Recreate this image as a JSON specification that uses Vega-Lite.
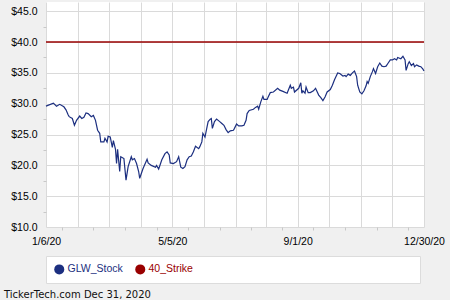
{
  "$schema": "https://vega.github.io/schema/vega-lite/v6.json",
  "width": 378,
  "height": 225,
  "autosize": "none",
  "padding": {"left": 46, "top": 2, "right": 26, "bottom": 73},
  "background": "#f0f0f0",
  "config": {
    "view": {"fill": "white", "stroke": null},
    "font": "Liberation Sans"
  },
  "title": {
    "text": "TickerTech.com  Dec 31, 2020",
    "orient": "bottom",
    "anchor": "start",
    "frame": "group",
    "dx": -42,
    "offset": 6,
    "font": "DejaVu Sans",
    "fontSize": 10,
    "fontWeight": "normal",
    "color": "#111"
  },
  "data": {
    "values": [
      {"date": "2020-01-06", "price": 29.6, "series": "GLW_Stock"},
      {"date": "2020-01-13", "price": 30.1, "series": "GLW_Stock"},
      {"date": "2020-01-16", "price": 29.6, "series": "GLW_Stock"},
      {"date": "2020-01-19", "price": 29.9, "series": "GLW_Stock"},
      {"date": "2020-01-23", "price": 29.5, "series": "GLW_Stock"},
      {"date": "2020-01-25", "price": 29.0, "series": "GLW_Stock"},
      {"date": "2020-01-27", "price": 28.2, "series": "GLW_Stock"},
      {"date": "2020-01-28", "price": 27.9, "series": "GLW_Stock"},
      {"date": "2020-01-31", "price": 27.6, "series": "GLW_Stock"},
      {"date": "2020-02-02", "price": 26.5, "series": "GLW_Stock"},
      {"date": "2020-02-04", "price": 27.3, "series": "GLW_Stock"},
      {"date": "2020-02-07", "price": 28.0, "series": "GLW_Stock"},
      {"date": "2020-02-09", "price": 27.6, "series": "GLW_Stock"},
      {"date": "2020-02-11", "price": 27.8, "series": "GLW_Stock"},
      {"date": "2020-02-13", "price": 28.5, "series": "GLW_Stock"},
      {"date": "2020-02-15", "price": 28.4, "series": "GLW_Stock"},
      {"date": "2020-02-18", "price": 27.9, "series": "GLW_Stock"},
      {"date": "2020-02-20", "price": 28.1, "series": "GLW_Stock"},
      {"date": "2020-02-22", "price": 27.3, "series": "GLW_Stock"},
      {"date": "2020-02-24", "price": 25.7, "series": "GLW_Stock"},
      {"date": "2020-02-26", "price": 25.2, "series": "GLW_Stock"},
      {"date": "2020-02-27", "price": 23.8, "series": "GLW_Stock"},
      {"date": "2020-03-01", "price": 23.8, "series": "GLW_Stock"},
      {"date": "2020-03-02", "price": 24.4, "series": "GLW_Stock"},
      {"date": "2020-03-04", "price": 23.8, "series": "GLW_Stock"},
      {"date": "2020-03-05", "price": 24.7, "series": "GLW_Stock"},
      {"date": "2020-03-07", "price": 24.6, "series": "GLW_Stock"},
      {"date": "2020-03-09", "price": 22.9, "series": "GLW_Stock"},
      {"date": "2020-03-10", "price": 24.0, "series": "GLW_Stock"},
      {"date": "2020-03-12", "price": 22.6, "series": "GLW_Stock"},
      {"date": "2020-03-13", "price": 20.3, "series": "GLW_Stock"},
      {"date": "2020-03-14", "price": 22.6, "series": "GLW_Stock"},
      {"date": "2020-03-16", "price": 19.0, "series": "GLW_Stock"},
      {"date": "2020-03-17", "price": 21.4, "series": "GLW_Stock"},
      {"date": "2020-03-20", "price": 21.1, "series": "GLW_Stock"},
      {"date": "2020-03-22", "price": 17.6, "series": "GLW_Stock"},
      {"date": "2020-03-24", "price": 19.8, "series": "GLW_Stock"},
      {"date": "2020-03-27", "price": 21.4, "series": "GLW_Stock"},
      {"date": "2020-03-28", "price": 20.9, "series": "GLW_Stock"},
      {"date": "2020-03-30", "price": 21.1, "series": "GLW_Stock"},
      {"date": "2020-04-01", "price": 20.3, "series": "GLW_Stock"},
      {"date": "2020-04-03", "price": 19.0, "series": "GLW_Stock"},
      {"date": "2020-04-04", "price": 17.9, "series": "GLW_Stock"},
      {"date": "2020-04-07", "price": 19.4, "series": "GLW_Stock"},
      {"date": "2020-04-08", "price": 19.8, "series": "GLW_Stock"},
      {"date": "2020-04-11", "price": 21.0, "series": "GLW_Stock"},
      {"date": "2020-04-12", "price": 20.4, "series": "GLW_Stock"},
      {"date": "2020-04-15", "price": 20.0, "series": "GLW_Stock"},
      {"date": "2020-04-19", "price": 19.7, "series": "GLW_Stock"},
      {"date": "2020-04-20", "price": 20.0, "series": "GLW_Stock"},
      {"date": "2020-04-22", "price": 19.4, "series": "GLW_Stock"},
      {"date": "2020-04-23", "price": 19.9, "series": "GLW_Stock"},
      {"date": "2020-04-25", "price": 20.9, "series": "GLW_Stock"},
      {"date": "2020-04-28", "price": 21.9, "series": "GLW_Stock"},
      {"date": "2020-04-30", "price": 22.2, "series": "GLW_Stock"},
      {"date": "2020-05-02", "price": 21.7, "series": "GLW_Stock"},
      {"date": "2020-05-03", "price": 20.4, "series": "GLW_Stock"},
      {"date": "2020-05-06", "price": 20.3, "series": "GLW_Stock"},
      {"date": "2020-05-09", "price": 20.6, "series": "GLW_Stock"},
      {"date": "2020-05-11", "price": 21.4, "series": "GLW_Stock"},
      {"date": "2020-05-13", "price": 19.7, "series": "GLW_Stock"},
      {"date": "2020-05-15", "price": 19.5, "series": "GLW_Stock"},
      {"date": "2020-05-17", "price": 19.8, "series": "GLW_Stock"},
      {"date": "2020-05-19", "price": 20.9, "series": "GLW_Stock"},
      {"date": "2020-05-21", "price": 21.4, "series": "GLW_Stock"},
      {"date": "2020-05-23", "price": 21.5, "series": "GLW_Stock"},
      {"date": "2020-05-25", "price": 22.2, "series": "GLW_Stock"},
      {"date": "2020-05-27", "price": 23.1, "series": "GLW_Stock"},
      {"date": "2020-05-30", "price": 22.7, "series": "GLW_Stock"},
      {"date": "2020-05-31", "price": 23.0, "series": "GLW_Stock"},
      {"date": "2020-06-02", "price": 23.8, "series": "GLW_Stock"},
      {"date": "2020-06-03", "price": 25.2, "series": "GLW_Stock"},
      {"date": "2020-06-05", "price": 24.6, "series": "GLW_Stock"},
      {"date": "2020-06-07", "price": 26.3, "series": "GLW_Stock"},
      {"date": "2020-06-08", "price": 27.1, "series": "GLW_Stock"},
      {"date": "2020-06-10", "price": 27.5, "series": "GLW_Stock"},
      {"date": "2020-06-11", "price": 27.6, "series": "GLW_Stock"},
      {"date": "2020-06-12", "price": 26.0, "series": "GLW_Stock"},
      {"date": "2020-06-14", "price": 27.1, "series": "GLW_Stock"},
      {"date": "2020-06-16", "price": 27.5, "series": "GLW_Stock"},
      {"date": "2020-06-19", "price": 27.1, "series": "GLW_Stock"},
      {"date": "2020-06-21", "price": 26.8, "series": "GLW_Stock"},
      {"date": "2020-06-23", "price": 26.5, "series": "GLW_Stock"},
      {"date": "2020-06-25", "price": 25.8, "series": "GLW_Stock"},
      {"date": "2020-06-27", "price": 25.3, "series": "GLW_Stock"},
      {"date": "2020-06-29", "price": 25.6, "series": "GLW_Stock"},
      {"date": "2020-07-02", "price": 25.7, "series": "GLW_Stock"},
      {"date": "2020-07-03", "price": 26.0, "series": "GLW_Stock"},
      {"date": "2020-07-05", "price": 26.7, "series": "GLW_Stock"},
      {"date": "2020-07-07", "price": 26.4, "series": "GLW_Stock"},
      {"date": "2020-07-10", "price": 26.4, "series": "GLW_Stock"},
      {"date": "2020-07-12", "price": 26.5, "series": "GLW_Stock"},
      {"date": "2020-07-14", "price": 27.3, "series": "GLW_Stock"},
      {"date": "2020-07-15", "price": 28.4, "series": "GLW_Stock"},
      {"date": "2020-07-17", "price": 28.9, "series": "GLW_Stock"},
      {"date": "2020-07-21", "price": 29.1, "series": "GLW_Stock"},
      {"date": "2020-07-23", "price": 29.4, "series": "GLW_Stock"},
      {"date": "2020-07-25", "price": 29.6, "series": "GLW_Stock"},
      {"date": "2020-07-26", "price": 29.1, "series": "GLW_Stock"},
      {"date": "2020-07-28", "price": 30.3, "series": "GLW_Stock"},
      {"date": "2020-07-30", "price": 31.2, "series": "GLW_Stock"},
      {"date": "2020-07-31", "price": 30.7, "series": "GLW_Stock"},
      {"date": "2020-08-03", "price": 30.7, "series": "GLW_Stock"},
      {"date": "2020-08-04", "price": 31.1, "series": "GLW_Stock"},
      {"date": "2020-08-06", "price": 31.8, "series": "GLW_Stock"},
      {"date": "2020-08-09", "price": 31.9, "series": "GLW_Stock"},
      {"date": "2020-08-13", "price": 32.5, "series": "GLW_Stock"},
      {"date": "2020-08-15", "price": 32.2, "series": "GLW_Stock"},
      {"date": "2020-08-18", "price": 32.0, "series": "GLW_Stock"},
      {"date": "2020-08-22", "price": 31.7, "series": "GLW_Stock"},
      {"date": "2020-08-25", "price": 33.0, "series": "GLW_Stock"},
      {"date": "2020-08-26", "price": 32.5, "series": "GLW_Stock"},
      {"date": "2020-08-28", "price": 32.7, "series": "GLW_Stock"},
      {"date": "2020-08-29", "price": 31.9, "series": "GLW_Stock"},
      {"date": "2020-09-02", "price": 32.5, "series": "GLW_Stock"},
      {"date": "2020-09-04", "price": 33.4, "series": "GLW_Stock"},
      {"date": "2020-09-05", "price": 31.7, "series": "GLW_Stock"},
      {"date": "2020-09-06", "price": 32.1, "series": "GLW_Stock"},
      {"date": "2020-09-08", "price": 31.7, "series": "GLW_Stock"},
      {"date": "2020-09-09", "price": 32.7, "series": "GLW_Stock"},
      {"date": "2020-09-11", "price": 31.8, "series": "GLW_Stock"},
      {"date": "2020-09-13", "price": 31.8, "series": "GLW_Stock"},
      {"date": "2020-09-16", "price": 32.1, "series": "GLW_Stock"},
      {"date": "2020-09-18", "price": 32.5, "series": "GLW_Stock"},
      {"date": "2020-09-21", "price": 31.4, "series": "GLW_Stock"},
      {"date": "2020-09-23", "price": 31.0, "series": "GLW_Stock"},
      {"date": "2020-09-25", "price": 30.5, "series": "GLW_Stock"},
      {"date": "2020-09-27", "price": 31.1, "series": "GLW_Stock"},
      {"date": "2020-09-29", "price": 31.9, "series": "GLW_Stock"},
      {"date": "2020-10-02", "price": 32.3, "series": "GLW_Stock"},
      {"date": "2020-10-04", "price": 33.0, "series": "GLW_Stock"},
      {"date": "2020-10-06", "price": 33.9, "series": "GLW_Stock"},
      {"date": "2020-10-09", "price": 35.0, "series": "GLW_Stock"},
      {"date": "2020-10-11", "price": 34.9, "series": "GLW_Stock"},
      {"date": "2020-10-14", "price": 34.5, "series": "GLW_Stock"},
      {"date": "2020-10-16", "price": 34.6, "series": "GLW_Stock"},
      {"date": "2020-10-17", "price": 34.4, "series": "GLW_Stock"},
      {"date": "2020-10-19", "price": 34.8, "series": "GLW_Stock"},
      {"date": "2020-10-21", "price": 34.6, "series": "GLW_Stock"},
      {"date": "2020-10-23", "price": 35.0, "series": "GLW_Stock"},
      {"date": "2020-10-25", "price": 35.3, "series": "GLW_Stock"},
      {"date": "2020-10-27", "price": 34.4, "series": "GLW_Stock"},
      {"date": "2020-10-28", "price": 33.0, "series": "GLW_Stock"},
      {"date": "2020-10-30", "price": 31.9, "series": "GLW_Stock"},
      {"date": "2020-11-01", "price": 31.6, "series": "GLW_Stock"},
      {"date": "2020-11-03", "price": 32.1, "series": "GLW_Stock"},
      {"date": "2020-11-05", "price": 32.9, "series": "GLW_Stock"},
      {"date": "2020-11-06", "price": 33.6, "series": "GLW_Stock"},
      {"date": "2020-11-07", "price": 33.3, "series": "GLW_Stock"},
      {"date": "2020-11-09", "price": 34.4, "series": "GLW_Stock"},
      {"date": "2020-11-11", "price": 35.2, "series": "GLW_Stock"},
      {"date": "2020-11-12", "price": 35.7, "series": "GLW_Stock"},
      {"date": "2020-11-14", "price": 34.9, "series": "GLW_Stock"},
      {"date": "2020-11-16", "price": 36.0, "series": "GLW_Stock"},
      {"date": "2020-11-18", "price": 36.6, "series": "GLW_Stock"},
      {"date": "2020-11-20", "price": 36.1, "series": "GLW_Stock"},
      {"date": "2020-11-22", "price": 36.0, "series": "GLW_Stock"},
      {"date": "2020-11-24", "price": 36.1, "series": "GLW_Stock"},
      {"date": "2020-11-26", "price": 36.6, "series": "GLW_Stock"},
      {"date": "2020-11-28", "price": 37.1, "series": "GLW_Stock"},
      {"date": "2020-11-30", "price": 37.1, "series": "GLW_Stock"},
      {"date": "2020-12-02", "price": 37.3, "series": "GLW_Stock"},
      {"date": "2020-12-04", "price": 37.1, "series": "GLW_Stock"},
      {"date": "2020-12-05", "price": 37.5, "series": "GLW_Stock"},
      {"date": "2020-12-08", "price": 37.3, "series": "GLW_Stock"},
      {"date": "2020-12-10", "price": 37.7, "series": "GLW_Stock"},
      {"date": "2020-12-12", "price": 37.1, "series": "GLW_Stock"},
      {"date": "2020-12-13", "price": 35.4, "series": "GLW_Stock"},
      {"date": "2020-12-15", "price": 36.5, "series": "GLW_Stock"},
      {"date": "2020-12-16", "price": 36.8, "series": "GLW_Stock"},
      {"date": "2020-12-18", "price": 36.2, "series": "GLW_Stock"},
      {"date": "2020-12-20", "price": 36.5, "series": "GLW_Stock"},
      {"date": "2020-12-21", "price": 36.0, "series": "GLW_Stock"},
      {"date": "2020-12-23", "price": 36.3, "series": "GLW_Stock"},
      {"date": "2020-12-25", "price": 36.1, "series": "GLW_Stock"},
      {"date": "2020-12-27", "price": 36.0, "series": "GLW_Stock"},
      {"date": "2020-12-29", "price": 35.6, "series": "GLW_Stock"},
      {"date": "2020-12-30", "price": 35.3, "series": "GLW_Stock"},
      {"date": "2020-01-06", "price": 40, "series": "40_Strike"},
      {"date": "2020-12-30", "price": 40, "series": "40_Strike"}
    ]
  },
  "encoding": {
    "x": {
      "field": "date",
      "type": "temporal",
      "scale": {
        "domain": [{"year": 2020, "month": 1, "date": 6, "utc": true}, {"year": 2020, "month": 12, "date": 30, "utc": true}],
        "nice": false
      },
      "axis": {
        "title": null,
        "domain": false,
        "values": [
          {"year": 2020, "month": 1, "date": 6, "utc": true},
          {"year": 2020, "month": 1, "date": 21, "utc": true},
          {"year": 2020, "month": 2, "date": 5, "utc": true},
          {"year": 2020, "month": 2, "date": 20, "utc": true},
          {"year": 2020, "month": 3, "date": 6, "utc": true},
          {"year": 2020, "month": 3, "date": 21, "utc": true},
          {"year": 2020, "month": 4, "date": 5, "utc": true},
          {"year": 2020, "month": 4, "date": 20, "utc": true},
          {"year": 2020, "month": 5, "date": 5, "utc": true},
          {"year": 2020, "month": 5, "date": 20, "utc": true},
          {"year": 2020, "month": 6, "date": 4, "utc": true},
          {"year": 2020, "month": 6, "date": 19, "utc": true},
          {"year": 2020, "month": 7, "date": 4, "utc": true},
          {"year": 2020, "month": 7, "date": 19, "utc": true},
          {"year": 2020, "month": 8, "date": 2, "utc": true},
          {"year": 2020, "month": 8, "date": 17, "utc": true},
          {"year": 2020, "month": 9, "date": 1, "utc": true},
          {"year": 2020, "month": 9, "date": 16, "utc": true},
          {"year": 2020, "month": 10, "date": 1, "utc": true},
          {"year": 2020, "month": 10, "date": 16, "utc": true},
          {"year": 2020, "month": 10, "date": 31, "utc": true},
          {"year": 2020, "month": 11, "date": 15, "utc": true},
          {"year": 2020, "month": 11, "date": 30, "utc": true},
          {"year": 2020, "month": 12, "date": 15, "utc": true},
          {"year": 2020, "month": 12, "date": 30, "utc": true}
        ],
        "grid": true,
        "gridColor": "#dadada",
        "gridOpacity": {"condition": {"test": "round(datum.index * 24) % 2 == 0", "value": 1}, "value": 0},
        "tickColor": "#c8c8c8",
        "tickSize": 3,
        "tickOpacity": {"condition": {"test": "round(datum.index * 24) % 2 == 1", "value": 1}, "value": 0},
        "labelExpr": "round(datum.index * 24) % 8 == 0 ? utcFormat(datum.value, '%-m/%-d/%y') : ''",
        "labelOverlap": false,
        "labelFlush": false,
        "labelPadding": 6,
        "labelFont": "Liberation Sans",
        "labelFontSize": 10.5,
        "labelColor": "#000"
      }
    },
    "y": {
      "field": "price",
      "type": "quantitative",
      "scale": {"domain": [10, 46.5], "nice": false, "zero": false},
      "axis": {
        "title": null,
        "domain": false,
        "values": [10, 12.5, 15, 17.5, 20, 22.5, 25, 27.5, 30, 32.5, 35, 37.5, 40, 42.5, 45],
        "grid": true,
        "gridColor": "#dadada",
        "gridOpacity": {"condition": {"test": "datum.value % 5 == 0", "value": 1}, "value": 0},
        "tickColor": "#c8c8c8",
        "tickSize": 3,
        "tickOpacity": {"condition": {"test": "datum.value % 5 != 0", "value": 1}, "value": 0},
        "labelExpr": "datum.value % 5 == 0 ? format(datum.value, '$.1f') : ''",
        "labelPadding": 6,
        "labelFont": "Liberation Sans",
        "labelFontSize": 10.5,
        "labelColor": "#000"
      }
    },
    "color": {
      "field": "series",
      "type": "nominal",
      "scale": {"domain": ["GLW_Stock", "40_Strike"], "range": ["#1c2f80", "#990000"]},
      "legend": {
        "title": null,
        "orient": "none",
        "direction": "horizontal",
        "legendX": 0,
        "legendY": 254,
        "symbolType": "circle",
        "symbolSize": 100,
        "symbolStrokeWidth": 0,
        "labelFont": "Liberation Sans",
        "labelFontSize": 10.5,
        "labelLimit": 400,
        "labelOffset": 3,
        "columnPadding": 12,
        "padding": 8,
        "fillColor": "white",
        "strokeColor": "#dcdcdc",
        "labelExpr": "datum.label == '40_Strike' ? datum.label + pad('', 75) + '\u200b' : datum.label",
        "encode": {
          "symbols": {
            "update": {
              "fill": {"scale": "color", "field": "value"},
              "opacity": {"value": 1}
            }
          },
          "labels": {
            "update": {
              "fill": {"scale": "color", "field": "value"}
            }
          }
        }
      }
    }
  },
  "layer": [
    {
      "transform": [{"filter": "datum.series == '40_Strike'"}],
      "mark": {"type": "line", "strokeWidth": 1.6}
    },
    {
      "transform": [{"filter": "datum.series == 'GLW_Stock'"}],
      "mark": {"type": "line", "strokeWidth": 1.2}
    }
  ]
}
